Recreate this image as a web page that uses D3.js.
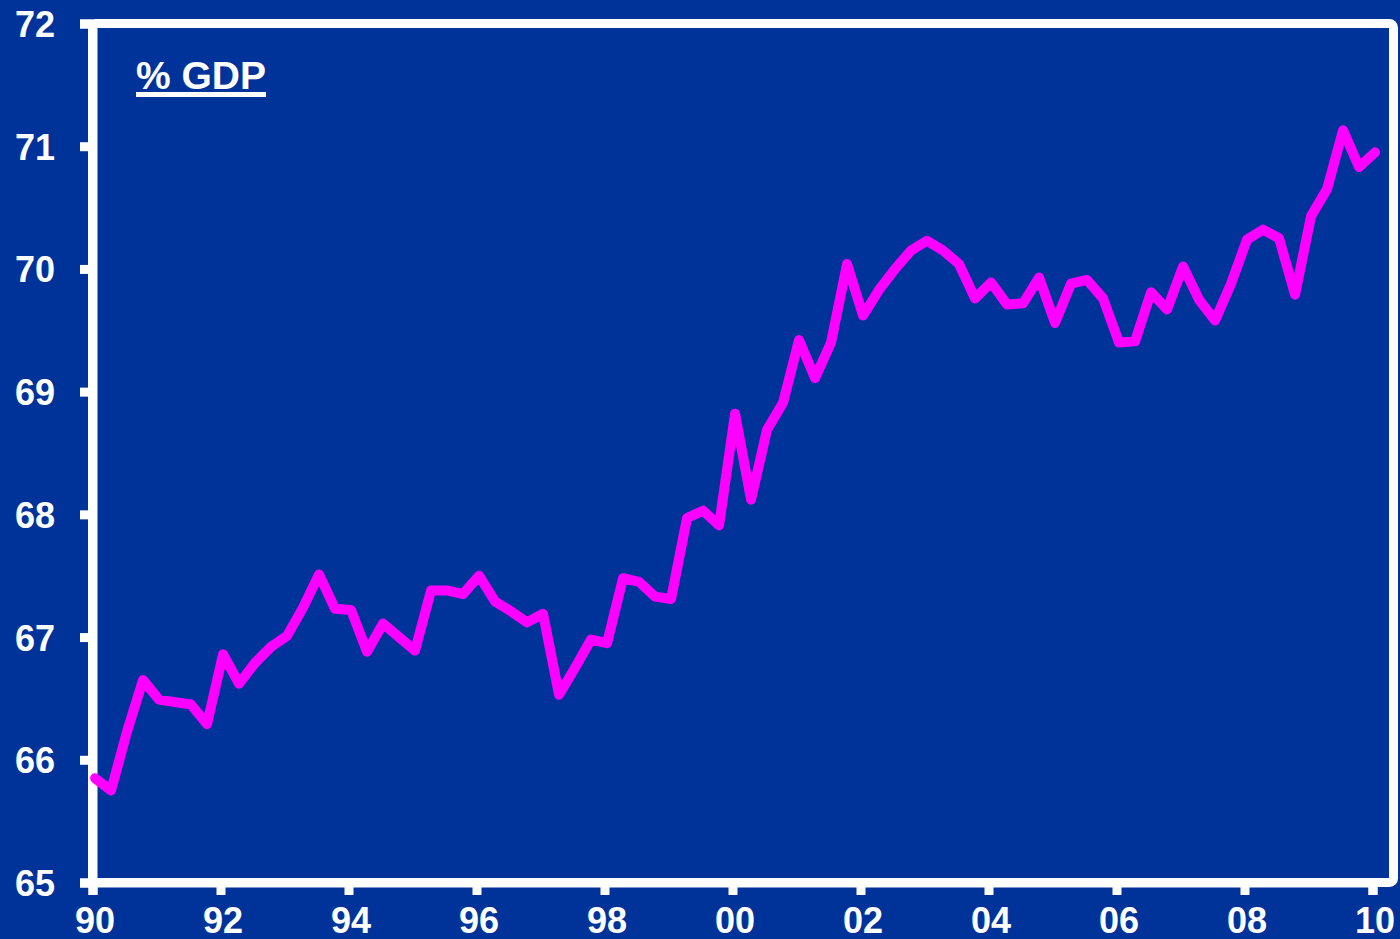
<!DOCTYPE html>
<html>
<head>
<meta charset="utf-8">
<script src="https://cdn.jsdelivr.net/npm/d3@7"></script>
<style>
  html, body { margin: 0; padding: 0; background: #003399; }
  svg { display: block; }
  text { font-family: "Liberation Sans", Arial, sans-serif; font-weight: bold; fill: #ffffff; }
</style>
</head>
<body>
<svg id="chart" width="1400" height="939"></svg>
<script>
// Quarterly series, 1990 Q1 to 2010 Q1 (% of GDP)
const startYear = 1990;
const values = [
  65.85, 65.75, 66.23, 66.65,
  66.49, 66.47, 66.45, 66.29,
  66.86, 66.62, 66.79, 66.92,
  67.01, 67.24, 67.51, 67.23,
  67.22, 66.88, 67.11, 67.00,
  66.89, 67.38, 67.38, 67.35,
  67.50, 67.29, 67.21, 67.12,
  67.19, 66.53, 66.75, 66.98,
  66.95, 67.48, 67.45, 67.33,
  67.31, 67.97, 68.03, 67.91,
  68.82, 68.12, 68.69, 68.91,
  69.42, 69.11, 69.40, 70.04,
  69.62, 69.83, 70.00, 70.15,
  70.23, 70.15, 70.04, 69.76,
  69.89, 69.71, 69.72, 69.93,
  69.56, 69.88, 69.91, 69.76,
  69.40, 69.41, 69.81, 69.67,
  70.02, 69.75, 69.58, 69.88,
  70.24, 70.32, 70.25, 69.79,
  70.43, 70.65, 71.13, 70.83,
  70.95
];
const yTicks = [65, 66, 67, 68, 69, 70, 71, 72];
const xTicks = [1990, 1992, 1994, 1996, 1998, 2000, 2002, 2004, 2006, 2008, 2010];
const xTickLabels = ["90", "92", "94", "96", "98", "00", "02", "04", "06", "08", "10"];
const unitLabel = "% GDP";

// each quarter is placed a little after its start date
const data = values.map((v, i) => ({ t: startYear + i / 4 + 0.04, v }));

const svg = d3.select("#chart");
const plotLeft = 92.5, plotRight = 1393.5, plotTop = 23.5, plotBottom = 882.5;

const x = d3.scaleLinear().domain([1990, 2010]).range([plotLeft, 1372.5]);
const y = d3.scaleLinear().domain([65, 72]).range([plotBottom, plotTop]);

svg.append("rect")
  .attr("width", 1400).attr("height", 939)
  .attr("fill", "#003399");

// white frame around the plot area
svg.append("rect")
  .attr("x", plotLeft).attr("y", plotTop)
  .attr("width", plotRight - plotLeft).attr("height", plotBottom - plotTop)
  .attr("rx", 4)
  .attr("fill", "#003399")
  .attr("stroke", "#ffffff")
  .attr("stroke-width", 9);

const sw = 9;

// y axis
const yAxis = svg.append("g")
  .attr("transform", `translate(${plotLeft},0)`)
  .call(d3.axisLeft(y).tickValues(yTicks).tickSize(12.5).tickPadding(25).tickFormat(d3.format("d")));
yAxis.select(".domain").attr("stroke", "#fff").attr("stroke-width", sw);
yAxis.selectAll(".tick line").attr("stroke", "#fff").attr("stroke-width", sw);
yAxis.selectAll(".tick text")
  .attr("fill", "#fff")
  .style("font-size", "36px")
  .attr("dy", "0.36em");

// x axis
const xAxis = svg.append("g")
  .attr("transform", `translate(0,${plotBottom})`)
  .call(d3.axisBottom(x).tickValues(xTicks).tickSize(12.5).tickPadding(12)
    .tickFormat((d, i) => xTickLabels[i]));
xAxis.select(".domain").attr("stroke", "#fff").attr("stroke-width", sw);
xAxis.selectAll(".tick line").attr("stroke", "#fff").attr("stroke-width", sw);
xAxis.selectAll(".tick text")
  .attr("fill", "#fff")
  .style("font-size", "36px")
  .attr("dx", "2");

// series line
const line = d3.line().x(d => x(d.t)).y(d => y(d.v));
svg.append("path")
  .datum(data)
  .attr("fill", "none")
  .attr("stroke", "#ff00ff")
  .attr("stroke-width", 10)
  .attr("stroke-linejoin", "round")
  .attr("stroke-linecap", "round")
  .attr("d", line);

// underlined unit label
const lbl = svg.append("text")
  .attr("x", 136).attr("y", 89)
  .style("font-size", "39px")
  .text(unitLabel);
const w = lbl.node().getComputedTextLength();
svg.append("rect")
  .attr("x", 136).attr("y", 92)
  .attr("width", w).attr("height", 5)
  .attr("fill", "#fff");
</script>
</body>
</html>
